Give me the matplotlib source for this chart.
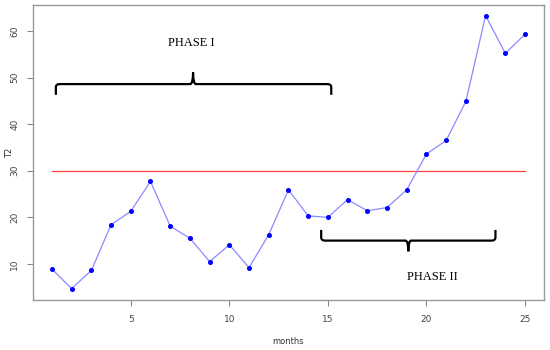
import numpy as np
import matplotlib.pyplot as plt
from matplotlib.path import Path
from matplotlib.patches import PathPatch

# monthly T2 values
months = list(range(1, 26))
t2 = [8.9, 4.7, 8.6, 18.4, 21.3, 27.7, 18.1, 15.5, 10.5, 14.1, 9.2, 16.3,
      25.9, 20.3, 20.0, 23.8, 21.4, 22.1, 25.9, 33.6, 36.5, 44.9, 63.3, 55.2, 59.3]
limit = 30

# phase braces: (x start, x end, x tip, bar y, end y, tip y)
phase1 = (1.2, 15.17, 8.16, 48.6, 46.3, 51.1)
phase2 = (14.66, 23.5, 19.08, 15.0, 17.3, 12.7)


def brace(ax, x0, x1, xm, yb, ye, yt):
    dy = (yb - ye) * 0.3
    rx = 0.2
    verts = [(x0, ye), (x0, yb - dy), (x0, yb), (x0 + rx, yb),
             (xm - 0.15, yb), (xm, yb), (xm, yt),
             (xm, yb), (xm + 0.15, yb),
             (x1 - rx, yb), (x1, yb), (x1, yb - dy), (x1, ye)]
    codes = [Path.MOVETO, Path.LINETO, Path.CURVE3, Path.CURVE3,
             Path.LINETO, Path.CURVE3, Path.CURVE3,
             Path.CURVE3, Path.CURVE3,
             Path.LINETO, Path.CURVE3, Path.CURVE3, Path.LINETO]
    ax.add_patch(PathPatch(Path(verts, codes), fill=False, lw=1.6,
                           edgecolor='black', capstyle='butt'))


fig = plt.figure(figsize=(5.5, 3.5), dpi=100)
ax = fig.add_axes([0.06, 0.143, 0.929, 0.843])

ax.plot(months, t2, color='#8a8aff', lw=0.9, zorder=2)
ax.plot(months, t2, 'o', color='#0000ff', ms=2.6, zorder=3)
ax.plot([months[0], months[-1]], [limit, limit], color='#ff4040', lw=0.9, zorder=1)

brace(ax, *phase1)
brace(ax, *phase2)
ax.text(8.07, 57.4, 'PHASE I', family='Liberation Serif', fontsize=9,
        ha='center', va='center')
ax.text(20.3, 7.2, 'PHASE II', family='Liberation Serif', fontsize=9,
        ha='center', va='center')

ax.set_xlim(0.04, 25.96)
ax.set_ylim(2.26, 65.6)
ax.set_xticks([5, 10, 15, 20, 25])
ax.set_yticks([10, 20, 30, 40, 50, 60])
ax.tick_params(colors='#888888', labelcolor='#444444', labelsize=6.5,
               length=4, width=0.8)
ax.tick_params(axis='x', pad=7)
ax.tick_params(axis='y', pad=6)
for lab in ax.get_yticklabels():
    lab.set_rotation(90)
    lab.set_va('center')
for s in ax.spines.values():
    s.set_color('#999999')
    s.set_linewidth(1.0)

ax.set_xlabel('months', fontsize=6, color='#333333')
ax.set_ylabel('T2', fontsize=6, color='#333333')
ax.xaxis.set_label_coords(0.5, -0.142)
ax.yaxis.set_label_coords(-0.045, 0.5)
ax.xaxis.label.set_va('center')
ax.yaxis.label.set_va('center')

fig.savefig('out.png', dpi=100)
